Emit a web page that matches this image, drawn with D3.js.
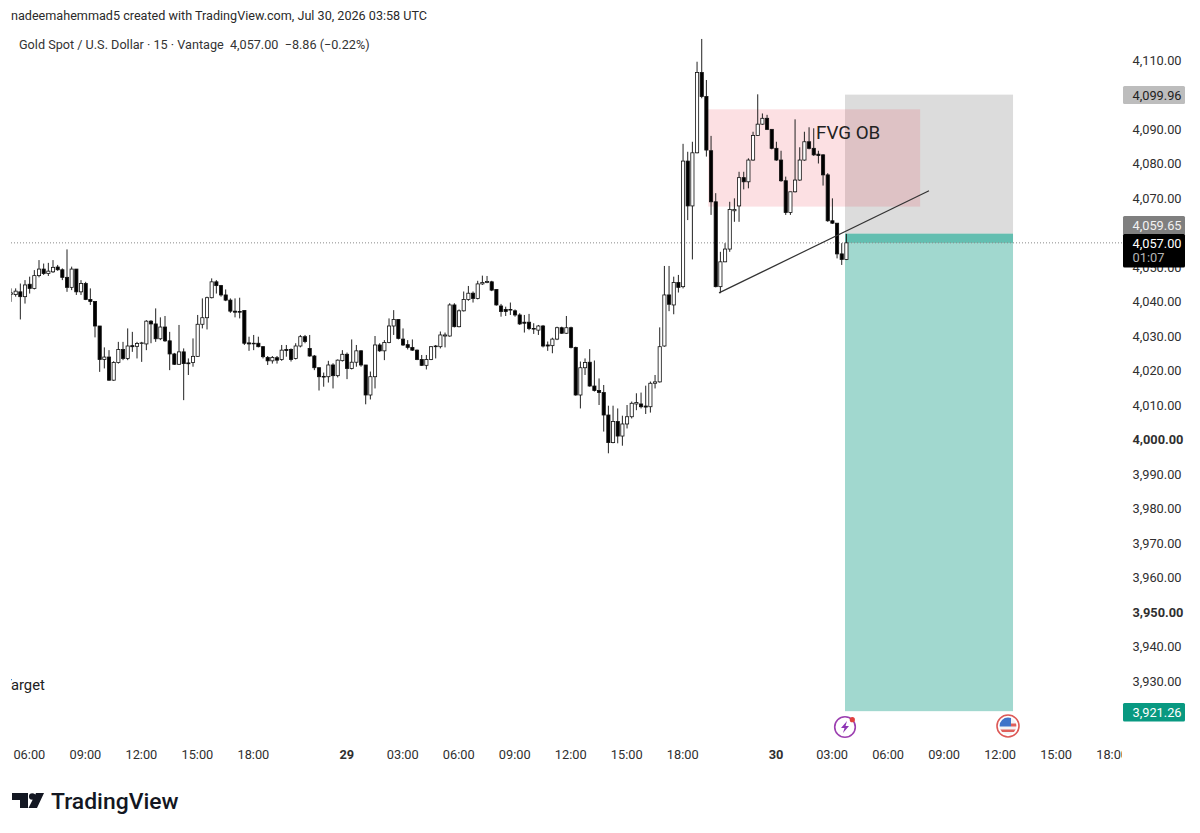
<!DOCTYPE html>
<head>
  <meta charset="utf-8">
  <script src="https://d3js.org/d3.v7.min.js"></script>
  <style>
    body { margin:0; background:#fff; }
    text { font-family: Roboto, sans-serif; }
    .axis text { fill:#2f2f2f; font-size:12.8px; }
    .axis path, .axis line { display:none; }
  </style>
</head>

<body>
  <script>
    var width = 1200;
    var height = 833;

    // 15 minute candles, left to right
    var opens = [4042.1,4042.0,4042.8,4041.4,4045.0,4043.8,4047.5,4049.4,4048.1,4048.6,4050.0,4049.2,4047.0,4044.1,4049.4,4042.8,4045.2,4040.6,4040.0,4032.9,
      4023.2,4023.9,4017.2,4022.3,4026.1,4023.5,4027.2,4027.0,4027.8,4027.7,4034.3,4033.5,4029.2,4032.6,4028.6,4024.8,4021.8,4025.4,4022.2,4022.3,
      4024.1,4033.4,4035.3,4041.1,4045.7,4044.6,4041.9,4040.4,4037.2,4037.1,4037.4,4028.0,4027.9,4027.9,4026.9,4023.8,4022.8,4023.7,4023.2,4026.1,
      4026.1,4023.5,4027.1,4029.8,4026.4,4024.2,4020.8,4018.3,4018.2,4021.6,4018.5,4022.85,4024.7,4020.6,4022.4,4025.7,4021.6,4012.9,4018.2,4027.4,
      4025.7,4028.1,4032.9,4034.8,4029.1,4027.5,4026.7,4025.9,4023.2,4021.5,4023.2,4026.9,4026.9,4030.0,4030.0,4039.0,4032.7,4037.3,4040.6,4042.4,
      4040.9,4045.1,4045.5,4045.7,4043.5,4038.7,4037.7,4037.5,4037.3,4036.1,4034.0,4034.0,4032.2,4031.7,4032.9,4027.4,4027.2,4029.1,4032.4,4030.8,
      4032.4,4026.7,4012.9,4020.8,4022.4,4015.5,4014.2,4013.6,4007.1,3999.1,4005.2,4001.0,4004.5,4006.6,4010.3,4010.3,4009.7,4009.5,4016.3,4016.7,
      4027.1,4041.9,4039.0,4045.5,4044.3,4080.7,4067.7,4083.1,4106.4,4099.4,4083.7,4068.9,4044.3,4051.5,4055.2,4066.3,4067.7,4075.9,4074.7,4081.0,
      4088.1,4091.4,4093.1,4089.9,4084.4,4081.0,4075.0,4065.8,4071.8,4075.2,4081.0,4086.3,4084.4,4082.7,4082.5,4076.7,4063.4,4062.7,4053.8,4052.2];
    var highs = [4043.8,4043.8,4045.2,4046.2,4047.2,4049.1,4052.0,4051.0,4051.2,4052.0,4050.6,4049.6,4055.1,4050.1,4049.4,4046.2,4045.7,4043.8,4040.0,4032.9,
      4026.7,4025.9,4022.7,4028.3,4028.3,4032.2,4031.2,4028.3,4028.3,4034.6,4034.6,4038.0,4035.4,4035.8,4031.2,4025.1,4033.2,4026.4,4023.5,4029.3,
      4036.1,4040.9,4041.4,4046.7,4046.2,4044.8,4043.5,4040.9,4040.9,4041.1,4037.4,4029.8,4030.3,4029.8,4027.1,4024.2,4024.2,4024.2,4027.4,4027.4,
      4026.4,4027.9,4030.3,4030.3,4030.3,4024.5,4020.9,4019.4,4022.8,4022.1,4023.2,4025.9,4025.2,4029.0,4027.4,4025.9,4021.6,4019.7,4030.0,4027.9,
      4028.8,4035.1,4037.5,4034.8,4032.2,4028.8,4029.0,4026.1,4024.5,4024.5,4027.1,4027.4,4031.3,4031.0,4039.5,4039.5,4037.7,4042.9,4044.5,4042.9,
      4046.0,4047.5,4047.4,4046.0,4043.5,4039.3,4038.5,4039.7,4037.7,4036.6,4036.1,4036.4,4033.7,4033.2,4033.2,4028.4,4029.5,4032.7,4032.7,4035.8,
      4032.7,4026.9,4022.6,4023.5,4026.2,4022.9,4017.7,4015.8,4009.8,4009.8,4009.0,4006.9,4010.0,4011.0,4013.4,4013.6,4015.6,4016.8,4018.7,4032.5,
      4050.3,4050.3,4047.2,4047.7,4085.7,4083.4,4086.3,4109.5,4116.1,4104.2,4088.0,4071.4,4054.4,4056.9,4068.9,4069.9,4077.6,4077.6,4081.5,4089.2,
      4100.05,4094.5,4094.1,4089.9,4086.3,4083.7,4076.2,4071.8,4092.8,4084.7,4089.2,4090.5,4090.2,4083.7,4082.7,4077.2,4069.9,4062.7,4056.9,4059.6];
    var lows = [4039.9,4041.4,4034.8,4039.4,4042.3,4043.5,4047.0,4047.7,4047.4,4048.3,4048.9,4046.2,4042.8,4043.3,4041.9,4041.9,4040.4,4039.0,4029.6,4019.6,
      4020.6,4017.0,4017.0,4022.0,4023.0,4023.0,4025.4,4023.5,4022.5,4025.9,4027.9,4028.3,4028.8,4028.3,4020.1,4021.6,4021.6,4011.4,4018.7,4021.1,
      4024.0,4032.2,4031.9,4040.9,4042.3,4041.4,4040.1,4036.7,4035.4,4035.1,4027.4,4025.7,4025.9,4026.7,4023.5,4021.6,4022.0,4022.0,4022.8,4024.0,
      4022.6,4023.2,4026.7,4027.9,4024.0,4020.1,4014.2,4015.3,4016.5,4014.8,4018.0,4022.6,4017.5,4020.3,4021.1,4021.1,4010.2,4011.6,4014.8,4025.4,
      4023.0,4027.9,4030.3,4029.0,4027.1,4026.1,4025.7,4023.0,4021.3,4020.3,4023.0,4023.5,4026.4,4026.7,4029.8,4032.5,4032.5,4037.1,4040.2,4039.7,
      4040.6,4044.8,4045.3,4043.0,4038.8,4035.6,4035.8,4036.1,4035.6,4033.2,4031.0,4031.7,4030.6,4030.3,4026.7,4025.7,4025.0,4028.8,4030.6,4030.6,
      4026.4,4012.7,4009.0,4018.7,4015.3,4013.9,4010.0,4002.3,3996.0,3998.9,3998.9,3998.2,4003.2,4006.1,4008.5,4009.0,4007.4,4007.8,4014.8,4016.5,
      4026.9,4037.2,4036.3,4042.6,4043.8,4063.6,4052.2,4082.95,4098.9,4082.0,4065.1,4044.1,4042.4,4051.4,4054.4,4063.1,4063.1,4072.5,4072.8,4080.8,
      4088.0,4091.2,4089.7,4084.1,4080.8,4074.7,4065.1,4065.1,4071.6,4075.0,4080.8,4084.1,4082.2,4080.0,4073.6,4063.1,4062.5,4052.5,4050.6,4052.0];
    var closes = [4042.5,4043.0,4041.4,4044.8,4043.8,4047.5,4049.4,4048.1,4048.8,4049.9,4049.2,4047.0,4044.1,4049.4,4042.8,4045.2,4040.6,4040.0,4032.9,4023.2,
      4023.9,4017.2,4022.3,4026.1,4023.5,4027.1,4026.9,4027.8,4028.0,4034.3,4033.5,4029.2,4032.6,4028.6,4024.8,4021.8,4025.4,4022.0,4021.96,4024.1,
      4033.4,4035.3,4041.1,4045.7,4044.6,4041.9,4040.4,4037.2,4036.9,4036.9,4027.9,4027.7,4027.8,4026.9,4024.0,4022.8,4023.8,4023.0,4025.9,4025.8,
      4023.2,4027.1,4029.8,4028.4,4024.2,4020.8,4018.2,4018.1,4021.6,4018.5,4023.0,4024.7,4020.6,4022.4,4025.7,4021.6,4012.9,4018.2,4027.4,4025.7,
      4028.1,4032.9,4034.8,4029.3,4027.4,4026.7,4025.9,4023.2,4021.5,4023.2,4026.9,4027.1,4030.3,4030.3,4039.0,4032.7,4037.3,4040.6,4042.4,4040.9,
      4045.1,4045.5,4045.8,4043.3,4039.0,4037.1,4037.1,4037.7,4036.1,4033.5,4033.7,4032.2,4032.0,4032.9,4027.1,4027.1,4029.1,4032.4,4030.8,4032.4,
      4026.7,4012.9,4020.8,4022.3,4015.5,4014.2,4013.6,4007.1,3999.1,4005.2,4001.0,4004.5,4006.6,4010.5,4010.7,4009.5,4009.4,4016.3,4016.7,4026.9,
      4041.9,4039.2,4045.5,4044.1,4080.7,4067.7,4083.1,4106.4,4099.4,4083.9,4068.9,4044.3,4051.5,4055.2,4066.7,4066.7,4075.9,4074.7,4081.0,4088.1,
      4091.4,4093.1,4089.9,4084.4,4081.0,4075.0,4065.8,4071.8,4075.2,4081.0,4086.3,4084.4,4082.5,4082.3,4076.7,4063.4,4062.7,4053.8,4052.2,4057.0];

    // 4,060.00 sits fully behind the price tags, so it is not listed
    var priceTicks = [4110,4100,4090,4080,4070,4050,4040,4030,4020,4010,4000,3990,3980,3970,3960,3950,3940,3930];
    var boldPrices = [4000,3950];
    var timeTicks = [4,16,28,40,52,72,84,96,108,120,132,144,164,176,188,200,212,224,236];
    var timeLabels = ['06:00','09:00','12:00','15:00','18:00','29','03:00','06:00','09:00','12:00','15:00','18:00','30','03:00','06:00','09:00','12:00','15:00','18:00'];
    var boldTimes = ['29','30'];

    var lastPrice = 4057.00, entryPrice = 4059.65, stopPrice = 4099.96, targetPrice = 3921.26;

    var svg = d3.select('body').append('svg')
      .attr('width', width)
      .attr('height', height)
      .style('display', 'block');

    var x = d3.scaleLinear().domain([0, 179]).range([11, 846.4]);
    var y = d3.scaleLinear().domain([4110, 3930]).range([60, 681]);

    svg.append('clipPath').attr('id', 'plot')
      .append('rect').attr('x', 11).attr('y', 30).attr('width', 1112).attr('height', 705);
    svg.append('clipPath').attr('id', 'timeclip')
      .append('rect').attr('x', 11).attr('y', 740).attr('width', 1111).attr('height', 30);

    // header
    svg.append('text').attr('x', 11).attr('y', 20).attr('font-size', 12.62).attr('fill', '#2a2a2a')
      .text('nadeemahemmad5 created with TradingView.com, Jul 30, 2026 03:58 UTC');
    svg.append('text').attr('x', 19).attr('y', 48.5).attr('font-size', 12.65).attr('fill', '#333')
      .attr('xml:space', 'preserve')
      .text('Gold Spot / U.S. Dollar · 15 · Vantage  4,057.00  −8.86 (−0.22%)');

    var plot = svg.append('g').attr('clip-path', 'url(#plot)');

    // short position tool
    var left = x(178.7), right = x(214.7);
    plot.append('rect').attr('x', left).attr('width', right - left)
      .attr('y', y(stopPrice)).attr('height', y(entryPrice) - y(stopPrice))
      .attr('fill', 'rgb(115,115,115)').attr('fill-opacity', 0.25);
    plot.append('rect').attr('x', left).attr('width', right - left)
      .attr('y', y(entryPrice)).attr('height', y(targetPrice) - y(entryPrice))
      .attr('fill', 'rgb(8,153,129)').attr('fill-opacity', 0.38);
    plot.append('rect').attr('x', left).attr('width', right - left)
      .attr('y', y(entryPrice)).attr('height', y(lastPrice) - y(entryPrice))
      .attr('fill', 'rgb(8,153,129)').attr('fill-opacity', 0.4);

    // FVG box
    plot.append('rect')
      .attr('x', x(149.4)).attr('width', x(194.8) - x(149.4))
      .attr('y', y(4095.7)).attr('height', y(4067.5) - y(4095.7))
      .attr('fill', 'rgb(235,60,80)').attr('fill-opacity', 0.16);

    // last price line
    plot.append('line')
      .attr('x1', 11).attr('x2', 1123)
      .attr('y1', y(lastPrice)).attr('y2', y(lastPrice))
      .attr('stroke', '#8a8a8a').attr('stroke-width', 1).attr('stroke-dasharray', '1 2');

    // candles
    var candles = plot.selectAll('.candle').data(opens).enter().append('g').attr('class', 'candle');
    candles.append('line')
      .attr('x1', function(d, i) { return x(i); })
      .attr('x2', function(d, i) { return x(i); })
      .attr('y1', function(d, i) { return y(highs[i]); })
      .attr('y2', function(d, i) { return y(lows[i]); })
      .attr('stroke', '#222').attr('stroke-width', 1);
    candles.append('rect')
      .attr('x', function(d, i) { return x(i) - 1.6; })
      .attr('width', 3.2)
      .attr('y', function(d, i) { return y(Math.max(d, closes[i])); })
      .attr('height', function(d, i) { return Math.max(0.6, Math.abs(y(d) - y(closes[i]))); })
      .attr('fill', function(d, i) { return closes[i] >= d ? '#fff' : '#000'; })
      .attr('stroke', '#111').attr('stroke-width', 0.8);

    // trend line
    plot.append('line')
      .attr('x1', x(151.7)).attr('y1', y(4042.5))
      .attr('x2', x(196.7)).attr('y2', y(4072.1))
      .attr('stroke', '#333').attr('stroke-width', 1.2);

    plot.append('text').attr('x', 816).attr('y', 139).attr('font-size', 18.8).attr('fill', '#222').text('FVG OB');
    plot.append('text').attr('x', 2.9).attr('y', 690).attr('font-size', 14.8).attr('fill', '#222').text('Target');

    // price axis
    var yAxis = d3.axisRight(y)
      .tickValues(priceTicks)
      .tickSize(0)
      .tickFormat(d3.format(',.2f'));
    var yG = svg.append('g').attr('class', 'axis')
      .attr('transform', 'translate(1132.5,0)')
      .call(yAxis);
    yG.selectAll('text').attr('x', 0)
      .style('text-anchor', 'start')
      .style('font-weight', function(d) { return boldPrices.indexOf(d) >= 0 ? '700' : null; });

    // time axis
    var xAxis = d3.axisBottom(x)
      .tickValues(timeTicks)
      .tickSize(0)
      .tickFormat(function(d) { return timeLabels[timeTicks.indexOf(d)]; });
    var xG = svg.append('g').attr('clip-path', 'url(#timeclip)').append('g').attr('class', 'axis')
      .attr('transform', 'translate(-0.8,747)')
      .call(xAxis);
    xG.selectAll('text')
      .style('font-weight', function(d) { return boldTimes.indexOf(timeLabels[timeTicks.indexOf(d)]) >= 0 ? '700' : null; });

    // price labels on the right
    function priceTag(price, top, bottom, bg, fg) {
      svg.append('rect').attr('x', 1123).attr('y', top).attr('width', 62).attr('height', bottom - top)
        .attr('rx', 1.5).attr('fill', bg);
      svg.append('text').attr('x', 1132.5).attr('y', (top + bottom) / 2 + 4.5)
        .attr('font-size', 12.8).attr('fill', fg).text(d3.format(',.2f')(price));
    }
    priceTag(stopPrice, 86, 104, '#bdbdbd', '#222');
    priceTag(entryPrice, 216, 235, '#7f7f7f', '#f2f2f2');
    svg.append('rect').attr('x', 1123).attr('y', 234).attr('width', 62).attr('height', 33.5).attr('rx', 1.5).attr('fill', '#000');
    svg.append('text').attr('x', 1132.5).attr('y', 247.5).attr('font-size', 12.8).attr('fill', '#fff').text(d3.format(',.2f')(lastPrice));
    svg.append('text').attr('x', 1132.5).attr('y', 262).attr('font-size', 12.8).attr('fill', '#b5b5b5').text('01:07');
    priceTag(targetPrice, 703, 721.5, '#089981', '#fff');

    // event icons under the tool
    var bolt = svg.append('g').attr('transform', 'translate(845,727)');
    bolt.append('circle').attr('r', 10.3).attr('fill', '#fff').attr('stroke', '#9c3fb0').attr('stroke-width', 1.6);
    bolt.append('path').attr('d', 'M2,-6 L-4,1 L-0.5,1 L-2,6 L4,-1 L0.5,-1 Z').attr('fill', '#8e35b5');
    bolt.append('circle').attr('cx', 7.3).attr('cy', -7.3).attr('r', 2.6).attr('fill', '#e0403f');

    svg.append('clipPath').attr('id', 'flagclip').append('circle').attr('r', 8.4);
    var flag = svg.append('g').attr('transform', 'translate(1008,726)');
    flag.append('circle').attr('r', 11).attr('fill', '#fff').attr('stroke', '#dd5a58').attr('stroke-width', 1.6);
    var flagInner = flag.append('g').attr('clip-path', 'url(#flagclip)');
    flagInner.append('rect').attr('x', -9).attr('y', -9).attr('width', 18).attr('height', 18).attr('fill', '#f4f4f6');
    flagInner.append('rect').attr('x', -9).attr('y', -9).attr('width', 12).attr('height', 9.5).attr('fill', '#3f74c9');
    flagInner.append('rect').attr('x', 3).attr('y', -2.5).attr('width', 6).attr('height', 3).attr('fill', '#e0605c');
    flagInner.append('rect').attr('x', -9).attr('y', 3.5).attr('width', 18).attr('height', 2.5).attr('fill', '#e0605c');

    // logo
    var logo = svg.append('g').attr('fill', '#131722');
    logo.append('path').attr('d', 'M12,793 H28 V808 H20 V800 H12 Z');
    logo.append('circle').attr('cx', 32.3).attr('cy', 796.5).attr('r', 3.3);
    logo.append('path').attr('d', 'M36,793 H44 L37,808 H28.5 Z');
    logo.append('text').attr('x', 51).attr('y', 808.5).attr('font-size', 22.9).attr('font-weight', 500)
      .attr('fill', '#131722').text('TradingView');
  </script>
</body>
